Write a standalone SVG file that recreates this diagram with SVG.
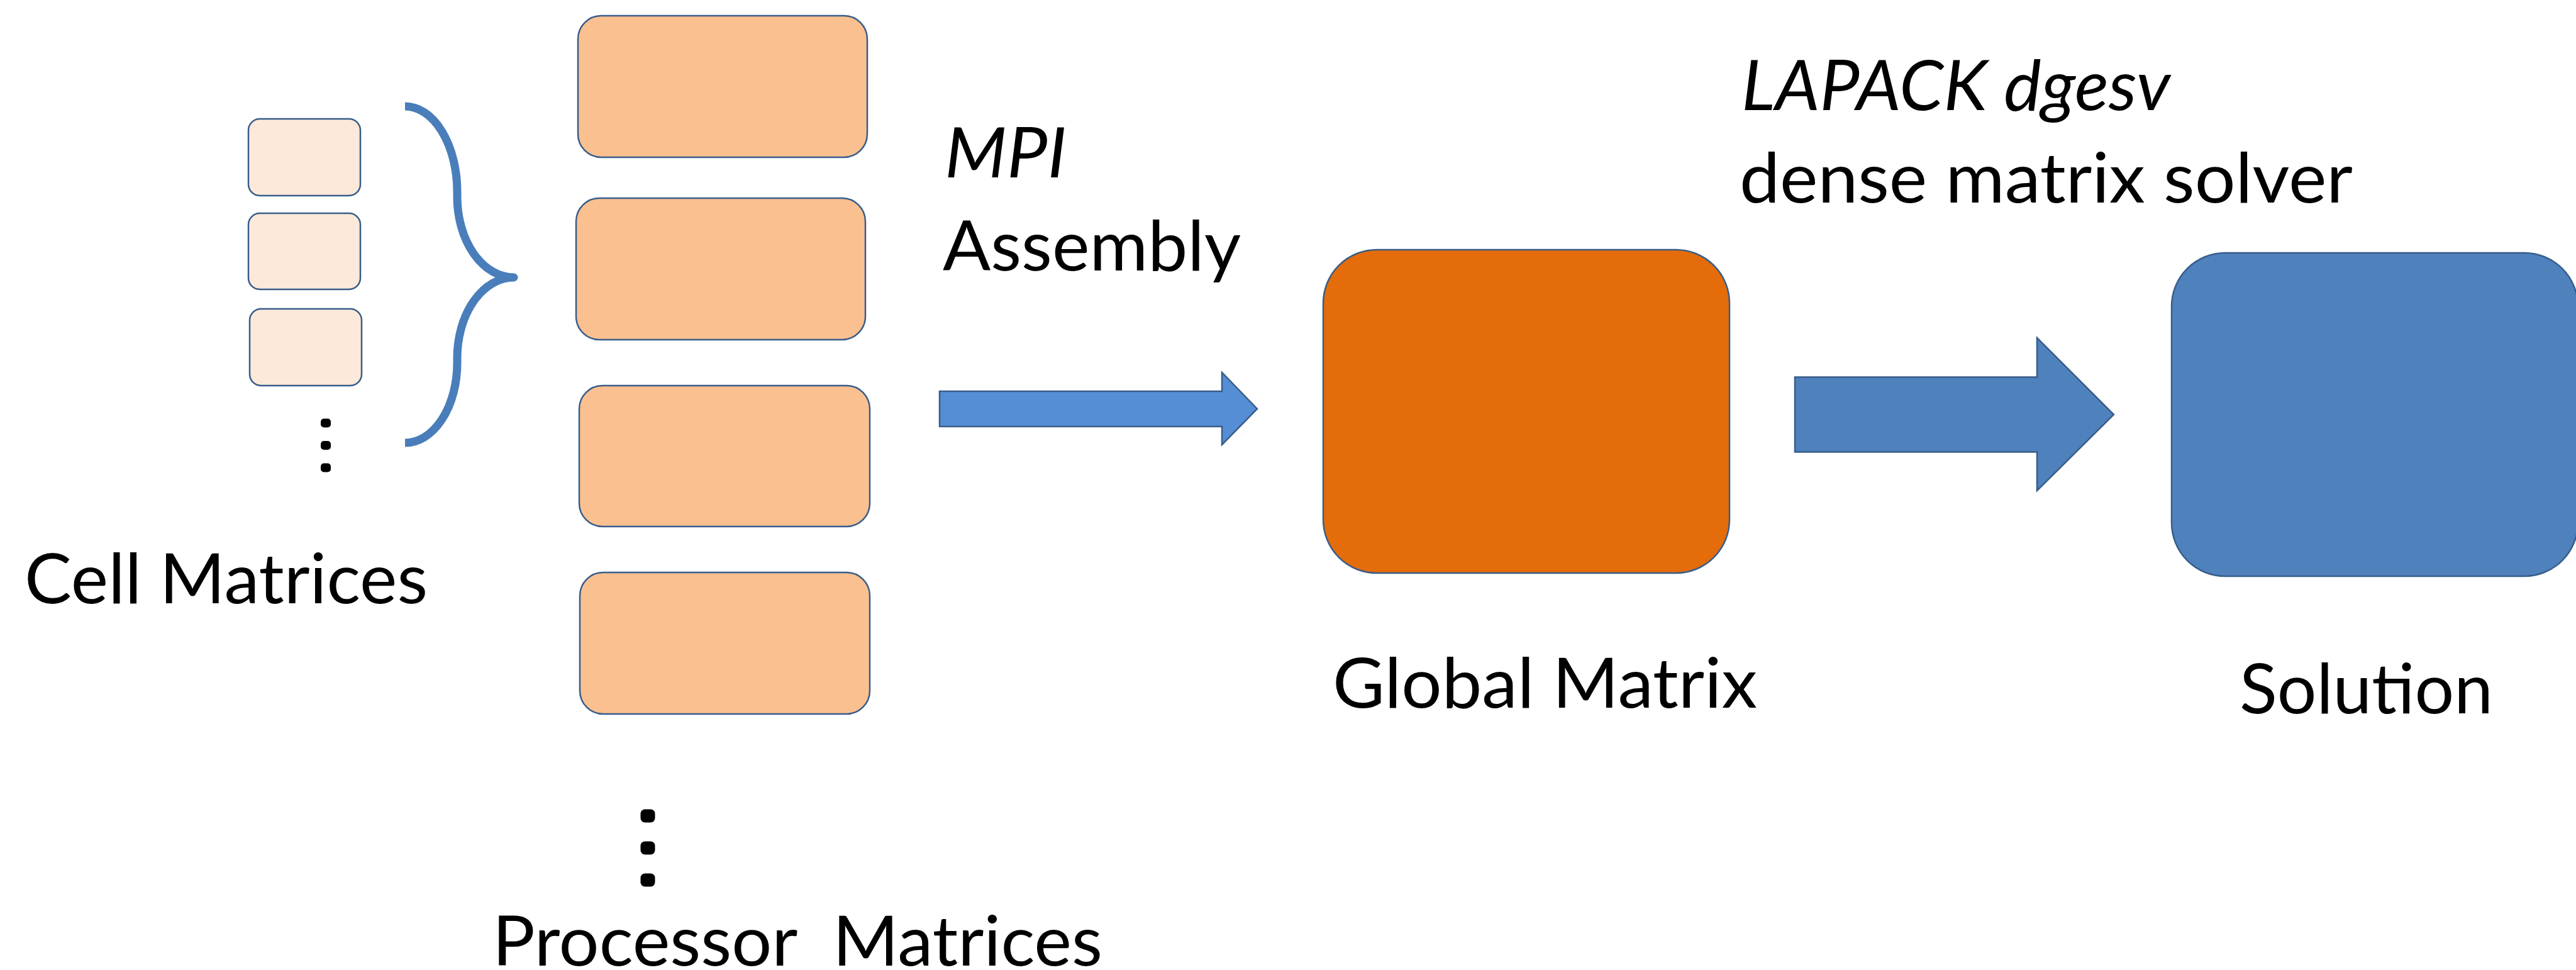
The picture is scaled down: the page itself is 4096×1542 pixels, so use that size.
<svg xmlns="http://www.w3.org/2000/svg" width="4096" height="1542" viewBox="0 0 4096 1542">
  <style>
    .cell { fill: #FDE9D9; stroke: #385D8A; stroke-width: 2.5; }
    .proc { fill: #FAC090; stroke: #385D8A; stroke-width: 2.5; }
    .global { fill: #E46C0A; stroke: #385D8A; stroke-width: 2.5; }
    .solution { fill: #4F81BD; stroke: #385D8A; stroke-width: 2.5; }
    .dot { fill: #000000; }
    .label { font-family: Lato, "Open Sans", "Liberation Sans", sans-serif; font-size: 110px; fill: #000000; }
    .it { font-style: italic; }
    .brace { fill: none; stroke: #4A7EBB; stroke-width: 13; stroke-linecap: butt; stroke-linejoin: round; }
    .arrow-mpi { fill: #558ED5; stroke: #385D8A; stroke-width: 2.5; }
    .arrow-solve { fill: #4F81BD; stroke: #385D8A; stroke-width: 2.5; }
  </style>

  <rect width="4096" height="1542" fill="#FFFFFF"/>

  <!-- Cell matrices -->
  <g id="cell-1"><rect class="cell" x="395" y="189" width="178" height="122" rx="18" ry="18"/></g>
  <g id="cell-2"><rect class="cell" x="395" y="339" width="178" height="121" rx="18" ry="18"/></g>
  <g id="cell-3"><rect class="cell" x="397" y="491" width="178" height="122" rx="18" ry="18"/></g>
  <g id="cell-more">
    <rect class="dot" x="510" y="665.5" width="16" height="14" rx="5"/>
    <rect class="dot" x="510" y="701" width="16" height="14" rx="5"/>
    <rect class="dot" x="510" y="736.5" width="16" height="14" rx="5"/>
  </g>
  <g id="cell-label">
    <text class="label" x="39" y="959" textLength="641" lengthAdjust="spacingAndGlyphs">Cell Matrices</text>
  </g>

  <!-- Processor matrices -->
  <g id="proc-1"><rect class="proc" x="919" y="25" width="460" height="225" rx="37" ry="37"/></g>
  <g id="proc-2"><rect class="proc" x="916" y="315" width="460" height="225" rx="37" ry="37"/></g>
  <g id="proc-3"><rect class="proc" x="921" y="613" width="462" height="224" rx="37" ry="37"/></g>
  <g id="proc-4"><rect class="proc" x="922" y="910" width="461" height="225" rx="37" ry="37"/></g>
  <g id="proc-more">
    <rect class="dot" x="1018.5" y="1286.5" width="23" height="21" rx="7"/>
    <rect class="dot" x="1018.5" y="1337.5" width="23" height="21" rx="7"/>
    <rect class="dot" x="1018.5" y="1388.5" width="23" height="21" rx="7"/>
  </g>
  <g id="proc-label">
    <text class="label" x="783" y="1535" textLength="970" lengthAdjust="spacingAndGlyphs" xml:space="preserve">Processor  Matrices</text>
  </g>

  <!-- Global matrix -->
  <g id="global-matrix">
    <rect class="global" x="2104" y="397" width="646" height="514" rx="85" ry="85"/>
    <text class="label" x="2119" y="1125" textLength="675" lengthAdjust="spacingAndGlyphs">Global Matrix</text>
  </g>

  <!-- Solution -->
  <g id="solution">
    <rect class="solution" x="3453" y="402" width="646" height="514" rx="85" ry="85"/>
    <text class="label" x="3561" y="1134" textLength="403" lengthAdjust="spacingAndGlyphs">Solution</text>
  </g>

  <!-- Connectors -->
  <g id="connectors">
    <path id="brace" class="brace" d="M644,169 A83,136 0 0 1 727,305 L727,313 A90,128 0 0 0 817,441 A90,128 0 0 0 727,569 L727,577 A83,127 0 0 1 644,704"/>
    <path id="arrow-mpi" class="arrow-mpi" d="M1494,622 L1943,622 L1943,592 L1999,650 L1943,707 L1943,678 L1494,678 Z"/>
    <path id="arrow-solve" class="arrow-solve" d="M2854,599.5 L3239,599.5 L3239,537 L3361,659 L3239,780 L3239,718.5 L2854,718.5 Z"/>
  </g>

  <!-- Step labels -->
  <g id="mpi-label">
    <text class="label it" x="1502" y="281.5" textLength="194" lengthAdjust="spacingAndGlyphs">MPI</text>
    <text class="label" x="1499" y="430" textLength="474" lengthAdjust="spacingAndGlyphs">Assembly</text>
  </g>
  <g id="lapack-label">
    <text class="label it" x="2769" y="174.5" textLength="682" lengthAdjust="spacingAndGlyphs">LAPACK dgesv</text>
    <text class="label" x="2766" y="322" textLength="975" lengthAdjust="spacingAndGlyphs">dense matrix solver</text>
  </g>
</svg>
